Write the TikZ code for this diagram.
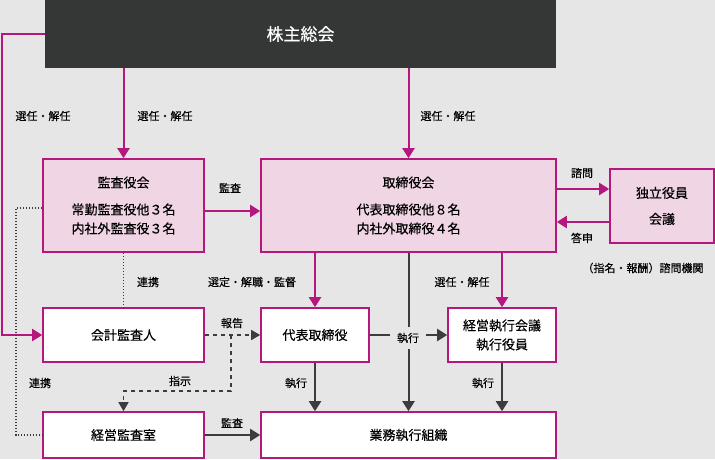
\documentclass[tikz,border=0pt]{standalone}
\usepackage{fontspec}
\setmainfont{Noto Sans CJK JP}[FakeBold=0.35]
\usetikzlibrary{arrows.meta}
\definecolor{mag}{HTML}{B5177E}
\definecolor{pinkfill}{HTML}{F0D5E4}
\definecolor{bggray}{HTML}{E6E6E6}
\definecolor{darkbox}{HTML}{353736}
\definecolor{arrgray}{HTML}{3C3C3C}
\begin{document}
\begin{tikzpicture}[x=1pt,y=-1pt]
\tikzstyle{pinkbox}=[draw=mag,line width=1.6pt,fill=pinkfill,inner sep=0pt,align=center,font=\fontsize{13}{19}\selectfont]
\tikzstyle{whitebox}=[draw=mag,line width=1.6pt,fill=white,inner sep=0pt,align=center,font=\fontsize{13}{19}\selectfont]
\tikzstyle{lab}=[inner sep=1pt,font=\fontsize{11}{13}\selectfont]
\tikzstyle{magarrow}=[draw=mag,line width=2pt,-{Triangle[width=12pt,length=10pt]},color=mag]
\tikzstyle{grayarrow}=[draw=arrgray,line width=2pt,-{Triangle[width=12pt,length=10pt]},color=arrgray]
\tikzstyle{dasharrow}=[draw=arrgray,line width=1.5pt,dash pattern=on 4pt off 4pt,-{Triangle[width=10pt,length=9pt]},color=arrgray]
\tikzstyle{dotline}=[draw=arrgray,line width=1.3pt,dash pattern=on 1.3pt off 1.7pt]
\fill[bggray] (0,0) rectangle (715,459);
\useasboundingbox (0,0) rectangle (715,459);
\node[fill=darkbox,minimum width=511pt,minimum height=68pt,inner sep=0pt,text=white,font=\fontsize{17}{20}\selectfont](gm) at (300.5,34) {株主総会};
\node[pinkbox,minimum width=161pt,minimum height=93pt](kansa) at (123.5,205.5) {監査役会\\[8pt]常勤監査役他３名\\内社外監査役３名};
\node[pinkbox,minimum width=295pt,minimum height=93pt](tori) at (408.5,205.5) {取締役会\\[8pt]代表取締役他８名\\内社外取締役４名};
\node[pinkbox,minimum width=104pt,minimum height=74pt,font=\fontsize{13}{26}\selectfont](dokuritsu) at (662,206) {独立役員\\会議};
\node[whitebox,minimum width=161pt,minimum height=54pt](kaikei) at (123.5,335) {会計監査人};
\node[whitebox,minimum width=108pt,minimum height=54pt](daihyo) at (315,335) {代表取締役};
\node[whitebox,minimum width=108pt,minimum height=54pt](keiei) at (502,335) {経営執行会議\\執行役員};
\node[whitebox,minimum width=161pt,minimum height=46pt](kansashitsu) at (123.5,435) {経営監査室};
\node[whitebox,minimum width=295pt,minimum height=46pt](gyomu) at (408.5,435) {業務執行組織};
\coordinate (lc) at (2,34);
\coordinate (dl) at (16,208);
\coordinate (sj) at (231,335);
\coordinate (bend) at (231,391);
\draw[magarrow] (gm.west) -- (lc) |- (kaikei.west);
\draw[magarrow] (gm.south -| kansa.north) -- (kansa.north);
\draw[magarrow] (gm.south -| tori.north) -- (tori.north);
\draw[magarrow] ([yshift=-5.5pt]kansa.east) -- ([yshift=-5.5pt]tori.west);
\draw[magarrow] ([yshift=17pt]dokuritsu.west -| tori.east) -- ([yshift=17pt]dokuritsu.west);
\draw[magarrow] ([yshift=-16pt]dokuritsu.west) -- ([yshift=-16pt]dokuritsu.west -| tori.east);
\draw[magarrow] (tori.south -| daihyo.north) -- (daihyo.north);
\draw[magarrow] (tori.south -| keiei.north) -- (keiei.north);
\draw[grayarrow] (tori.south) -- (gyomu.north);
\draw[grayarrow] (daihyo.east) -- (keiei.west);
\draw[grayarrow] (daihyo.south) -- (daihyo.south |- gyomu.north);
\draw[grayarrow] (keiei.south) -- (keiei.south |- gyomu.north);
\draw[grayarrow] (kansashitsu.east) -- (gyomu.west);
\draw[dotline] (kansa.west |- dl) -- (dl) |- (kansashitsu.west);
\draw[dotline] (kansa.south) -- (kaikei.north);
\draw[dasharrow] (kaikei.east) -- (daihyo.west);
\draw[dasharrow] (sj) -- (bend) -| (kansashitsu.north);
\node[lab] (l1) at (43,116) {選任・解任};
\node[lab] (l2) at (165,116) {選任・解任};
\node[lab] (l3) at (448,116) {選任・解任};
\node[lab] (l4) at (462,282) {選任・解任};
\node[lab] (l5) at (230,188) {監査};
\node[lab] (l6) at (582,173) {諮問};
\node[lab] (l7) at (582,238) {答申};
\node[lab] (l8) at (643,268) {（指名・報酬）諮問機関};
\node[lab] (l9) at (148,282) {連携};
\node[lab] (l10) at (40,383) {連携};
\node[lab] (l11) at (252,282) {選定・解職・監督};
\node[lab] (l12) at (232,323) {報告};
\node[lab] (l13) at (180,381) {指示};
\node[lab] (l14) at (296,383) {執行};
\node[lab] (l15) at (483,383) {執行};
\node[lab,fill=bggray,inner xsep=7pt,inner ysep=6pt] (l16) at (408,338) {執行};
\node[lab] (l17) at (232,423) {監査};
\end{tikzpicture}
\end{document}
